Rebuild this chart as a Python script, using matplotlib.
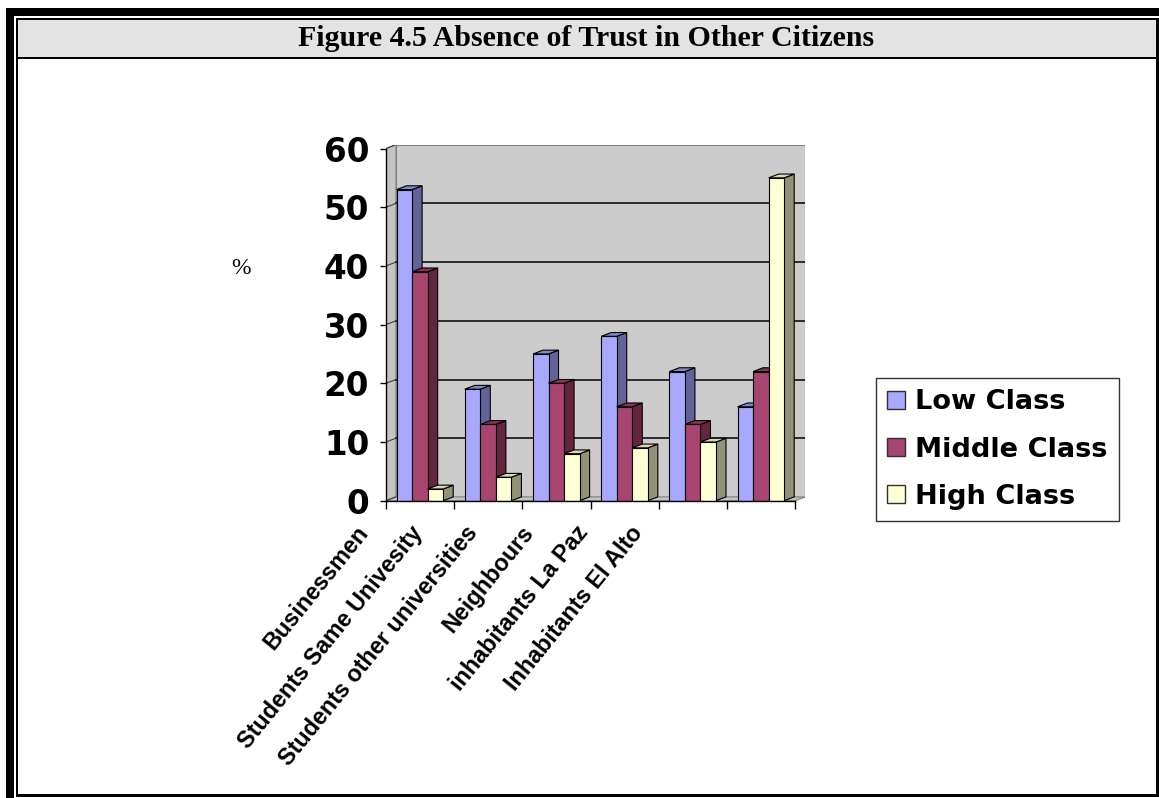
import matplotlib
matplotlib.use("Agg")
import matplotlib.pyplot as plt
from matplotlib.patches import Rectangle, Polygon, Patch
from matplotlib.transforms import offset_copy

# ---------------- data ----------------
title = "Figure 4.5 Absence of Trust in Other Citizens"
categories = ["Businessmen", "Students Same Univesity", "Students other universities",
              "Neighbours", "inhabitants La Paz", "Inhabitants El Alto"]
series_names = ["Low Class", "Middle Class", "High Class"]
low_class = [53, 19, 25, 28, 22, 16]
middle_class = [39, 13, 20, 16, 13, 22]
high_class = [2, 4, 8, 9, 10, 55]
y_ticks = [0, 10, 20, 30, 40, 50, 60]
y_label = "%"

# ---------------- style ----------------
front_colors = ["#a8a8ff", "#a84470", "#ffffd4"]
side_colors = ["#626498", "#652540", "#929278"]
top_colors = ["#8486cc", "#88335a", "#d8d8b4"]

W, H, DPI = 1159, 798, 100
fig = plt.figure(figsize=(W / DPI, H / DPI), dpi=DPI)
fig.patch.set_facecolor("white")

# ---- page frame (pixel coordinate background axes) ----
bg = fig.add_axes([0, 0, 1, 1], zorder=-1)
bg.set_xlim(0, W)
bg.set_ylim(H, 0)
bg.axis("off")

def prect(x0, y0, x1, y1, color):
    bg.add_patch(Rectangle((x0, y0), x1 - x0, y1 - y0, facecolor=color,
                           edgecolor="none", lw=0))

prect(6, 8, W, 16, "black")          # thick top band
prect(6, 8, 14, H, "black")          # thick left band
prect(18, 20, 1156, 56.7, "#e3e3e3") # title strip
prect(16, 18, W, 20, "black")        # inner top line
prect(16, 18, 18, 797, "black")      # inner left line
prect(1156, 18, W, 797, "black")     # inner right line
prect(16, 794, W, 797, "black")      # inner bottom line
prect(18, 56.7, 1156, 58.7, "black") # separator under title

fig.text(586 / W, 1 - 38.5 / H, title, ha="center", va="center",
         fontsize=21.5, fontweight="bold", family="Liberation Serif")

# ---------------- main axes ----------------
px_per_cat = 68.2
px_per_val = 5.87
dx = 10 / px_per_cat      # depth offset (x, data units)
dy = 3.8 / px_per_val     # depth offset (y, data units)
ymax = y_ticks[-1]
n = len(categories)

ax_left_px, ax_bottom_px = 386, 500.7
ax_w_px = (n + dx) * px_per_cat
ax_h_px = (ymax + dy) * px_per_val
ax = fig.add_axes([ax_left_px / W, 1 - ax_bottom_px / H, ax_w_px / W, ax_h_px / H])
ax.set_xlim(0, n + dx)
ax.set_ylim(0, ymax + dy)
ax.patch.set_visible(False)

# walls and floor
ax.add_patch(Rectangle((dx, dy), n, ymax, facecolor="#cccccc", edgecolor="#808080",
                       lw=0.8, zorder=0.5))
ax.add_patch(Polygon([(0, 0), (dx, dy), (dx, ymax + dy), (0, ymax)], closed=True,
                     facecolor="#c4c4c4", edgecolor="#808080", lw=0.8, zorder=0.6))
ax.add_patch(Polygon([(0, 0), (n, 0), (n + dx, dy), (dx, dy)], closed=True,
                     facecolor="#c4c4c4", edgecolor="#808080", lw=0.8, zorder=0.6))
for v in y_ticks[1:-1]:
    ax.plot([dx, n + dx], [v + dy, v + dy], color="black", lw=1.1, zorder=0.8)
for v in y_ticks:
    ax.plot([0, dx], [v, v + dy], color="#404040", lw=0.8, zorder=0.8)

# bars
bar_w = 0.228
bar_off = 0.155
all_series = [low_class, middle_class, high_class]
for s, vals in enumerate(all_series):
    xs = [i + bar_off + s * bar_w for i in range(n)]
    z = 2 + s
    ax.bar(xs, vals, width=bar_w, align="edge", color=front_colors[s],
           edgecolor="black", lw=0.8, zorder=z + 0.5)
    for x0, v in zip(xs, vals):
        x1 = x0 + bar_w
        ax.add_patch(Polygon([(x1, 0), (x1 + dx, dy), (x1 + dx, v + dy), (x1, v)],
                             closed=True, facecolor=side_colors[s], edgecolor="black",
                             lw=0.8, zorder=z))
        ax.add_patch(Polygon([(x0, v), (x1, v), (x1 + dx, v + dy), (x0 + dx, v + dy)],
                             closed=True, facecolor=top_colors[s], edgecolor="black",
                             lw=0.8, zorder=z))

# axes lines / ticks
for side in ["top", "right"]:
    ax.spines[side].set_visible(False)
ax.spines["left"].set_bounds(0, ymax)
ax.spines["bottom"].set_bounds(0, n)
for side in ["left", "bottom"]:
    ax.spines[side].set_linewidth(1.0)
    ax.spines[side].set_zorder(6)
ax.set_yticks(y_ticks)
ax.set_yticklabels([str(t) for t in y_ticks], fontsize=23.5, fontweight="bold",
                   family="DejaVu Sans")
ax.tick_params(axis="y", direction="out", length=4, width=1, pad=8)
ax.set_xticks(range(n + 1))
ax.set_xticklabels([])
ax.tick_params(axis="x", direction="out", length=6, width=1)

# rotated category labels
for i, lab in enumerate(categories):
    tr = offset_copy(ax.transData, fig=fig, x=-31 - 13.2 * i, y=-21, units="dots")
    ax.text(i, 0, lab, transform=tr, rotation=51, rotation_mode="anchor",
            ha="right", va="top", fontsize=16.8, fontweight="bold",
            family="Liberation Sans", clip_on=False)

fig.text(241 / W, 1 - 268 / H, y_label, ha="center", va="center",
         fontsize=17, family="Liberation Serif")

# legend
handles = [Patch(facecolor=front_colors[s], edgecolor="#303030", lw=1)
           for s in range(3)]
leg = fig.legend(handles, series_names, loc="upper left",
                 bbox_to_anchor=(876 / W, 1 - 378 / H), frameon=True, fancybox=False,
                 prop={"family": "DejaVu Sans", "weight": "bold", "size": 19.6},
                 handlelength=0.65, handleheight=0.65, handletextpad=0.36,
                 labelspacing=0.78, borderpad=0.42, borderaxespad=0)
leg.get_frame().set_edgecolor("black")
leg.get_frame().set_linewidth(1.0)

fig.savefig("out.png", dpi=DPI)
